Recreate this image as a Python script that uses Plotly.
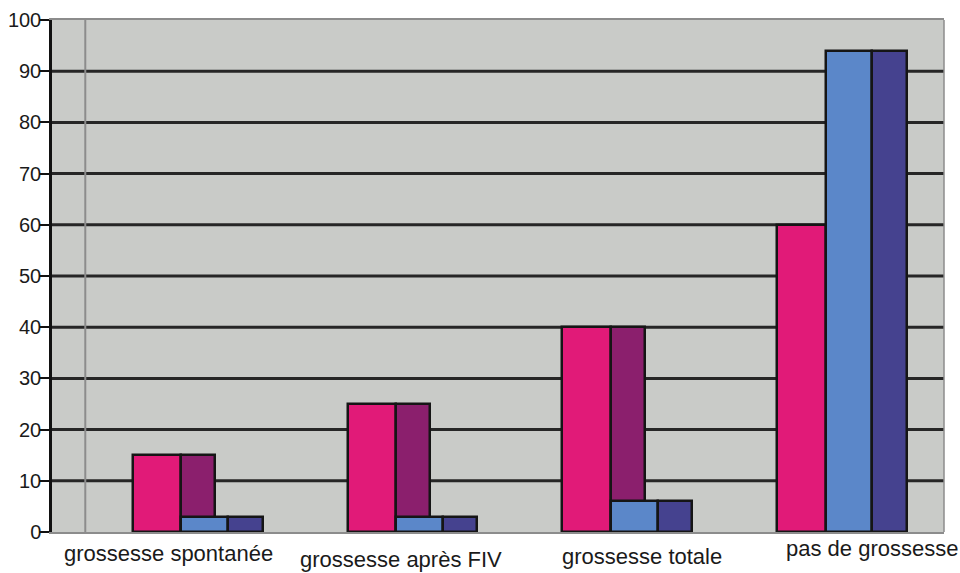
import plotly.graph_objects as go

categories = ["grossesse spontanée", "grossesse après FIV", "grossesse totale", "pas de grossesse"]
pink_values = [15, 25, 40, 60]
purple_values = [15, 25, 40, None]
lightblue_values = [3, 3, 6, 94]
darkblue_values = [3, 3, 6, 94]
y_ticks = [0, 10, 20, 30, 40, 50, 60, 70, 80, 90, 100]
grid_values = [10, 20, 30, 40, 50, 60, 70, 80, 90]

# styles (offset, width in category units)
series_styles = [
    (pink_values, "#e11a78", -0.278, 0.226),
    (purple_values, "#8b1f6d", -0.052, 0.158),
    (lightblue_values, "#5b87c9", -0.052, 0.218),
    (darkblue_values, "#45428f", 0.166, 0.160),
]
label_shifts = [(-24, -21), (-6, -27), (20, -24), (35, -16)]

xs = list(range(len(categories)))
fig = go.Figure()
for vals, color, off, w in series_styles:
    fig.add_trace(go.Bar(
        x=xs, y=vals, offset=off, width=w,
        marker=dict(color=color, line=dict(color="#151515", width=2.5)),
        showlegend=False,
    ))

shapes = []
for g in grid_values:
    shapes.append(dict(type="line", xref="paper", yref="y", x0=0, x1=1, y0=g, y1=g,
                       line=dict(color="#262626", width=3), layer="below"))
shapes.append(dict(type="line", xref="x", yref="paper", x0=-0.5, x1=-0.5, y0=0, y1=1,
                   line=dict(color="#8c8c8c", width=2), layer="below"))
shapes.append(dict(type="line", xref="paper", yref="paper", x0=1, x1=1, y0=0, y1=1,
                   line=dict(color="#8c8c8c", width=1.5), layer="above"))

annotations = []
for i, (lab, (dx, dy)) in enumerate(zip(categories, label_shifts)):
    annotations.append(dict(x=i, y=0, xref="x", yref="paper", text=lab, showarrow=False,
                            xshift=dx, yshift=dy, xanchor="center", yanchor="middle",
                            font=dict(family="Liberation Sans, Arial, sans-serif", size=22, color="#1a1a1a")))

fig.update_layout(
    width=960, height=573,
    margin=dict(l=52, r=16, t=20, b=41, autoexpand=False),
    paper_bgcolor="white",
    plot_bgcolor="#c9cbc8",
    barmode="overlay",
    bargap=0,
    shapes=shapes,
    annotations=annotations,
    font=dict(family="Liberation Sans, Arial, sans-serif", color="#1a1a1a"),
)
fig.update_xaxes(range=[-0.655, 3.5], showgrid=False, zeroline=False, showticklabels=False,
                 showline=True, linecolor="#8c8c8c", linewidth=1.5, mirror=True, ticks="",
                 automargin=False)
fig.update_yaxes(range=[0, 100], tickvals=y_ticks, showgrid=False, zeroline=False,
                 showline=True, linecolor="#111111", linewidth=2.5,
                 ticks="outside", ticklen=10, tickwidth=2, tickcolor="#111111",
                 ticklabelstandoff=-6,
                 tickfont=dict(size=20, color="#1a1a1a"), automargin=False)

fig.write_html("out.html")
